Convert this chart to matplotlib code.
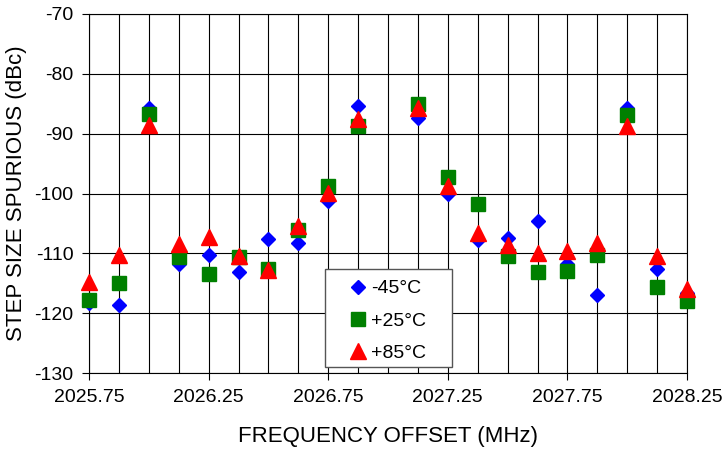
import numpy as np
import matplotlib
matplotlib.use('Agg')
import matplotlib.pyplot as plt
from matplotlib.patches import Rectangle
from matplotlib.ticker import MultipleLocator, FormatStrFormatter

# frequency offset (MHz), one point every 0.125 MHz, 2027.0 has no data
freq = [2025.75, 2025.875, 2026.0, 2026.125, 2026.25, 2026.375, 2026.5,
        2026.625, 2026.75, 2026.875, 2027.125, 2027.25, 2027.375, 2027.5,
        2027.625, 2027.75, 2027.875, 2028.0, 2028.125, 2028.25]

spur_m45 = [-118.3, -118.7, -85.7, -111.8, -110.3, -113.2, -107.6, -108.3,
            -101.2, -85.4, -87.4, -100.0, -107.8, -107.5, -104.6, -111.7,
            -117.0, -85.7, -112.7, -116.6]
spur_p25 = [-117.8, -114.9, -86.7, -110.6, -113.5, -110.6, -112.7, -106.1,
            -98.8, -88.7, -85.1, -97.3, -101.7, -110.4, -113.2, -112.9,
            -110.3, -86.8, -115.7, -117.9]
spur_p85 = [-114.8, -110.3, -88.5, -108.5, -107.2, -110.4, -112.8, -105.4,
            -99.9, -87.6, -85.7, -98.8, -106.6, -108.6, -110.0, -109.6,
            -108.3, -88.8, -110.4, -116.0]

x_ticks = [2025.75, 2026.25, 2026.75, 2027.25, 2027.75, 2028.25]

plt.rcParams['font.family'] = ['Liberation Sans', 'DejaVu Sans']
plt.rcParams['axes.unicode_minus'] = False

fig = plt.figure(figsize=(7.23, 4.53), dpi=100)
ax = fig.add_axes([89 / 723, 1 - 373 / 453, 598 / 723, 359 / 453])

ax.plot(freq, spur_m45, 'D', color='#0000ff', markersize=7.6, label='-45°C',
        linestyle='none', zorder=3, clip_on=False)
ax.plot(freq, spur_p25, 's', color='#008000', markersize=10.5, label='+25°C',
        linestyle='none', zorder=3, clip_on=False)
ax.plot(freq, spur_p85, '^', color='#ff0000', markersize=11, label='+85°C',
        linestyle='none', zorder=3, clip_on=False)

ax.set_xlim(2025.75, 2028.25)
ax.set_ylim(-130, -70)
ax.set_xticks(x_ticks)
ax.xaxis.set_minor_locator(MultipleLocator(0.125))
ax.yaxis.set_major_locator(MultipleLocator(10))
ax.xaxis.set_major_formatter(FormatStrFormatter('%.2f'))

ax.grid(which='both', axis='x', color='black', linewidth=0.8)
ax.grid(which='major', axis='y', color='black', linewidth=0.8)
ax.set_axisbelow(True)

ax.tick_params(which='major', direction='out', length=5, width=0.8,
               labelsize=14)
ax.tick_params(axis='x', pad=6.5)
ax.tick_params(axis='y', pad=6)
ax.tick_params(which='minor', length=0)
for s in ax.spines.values():
    s.set_color('black')
    s.set_linewidth(0.8)

ax.set_xlabel('FREQUENCY OFFSET (MHz)', fontsize=16, labelpad=14.5)
ax.set_ylabel('STEP SIZE SPURIOUS (dBc)', fontsize=16)
ax.yaxis.set_label_coords(-0.104, 0.5)

# legend box drawn by hand so its padding matches the original
ax.add_patch(Rectangle((0.3946, 0.0167), 0.2124, 0.273, transform=ax.transAxes,
                       facecolor='white', edgecolor='#555555', linewidth=1.0,
                       zorder=4))
leg = ax.legend(loc='upper left', bbox_to_anchor=(0.4306, 0.2596),
                fontsize=14, frameon=False, borderpad=0, labelspacing=0.75,
                handletextpad=0.05, handlelength=1.2, borderaxespad=0)
leg.set_zorder(5)

fig.savefig('out.png', dpi=100)
